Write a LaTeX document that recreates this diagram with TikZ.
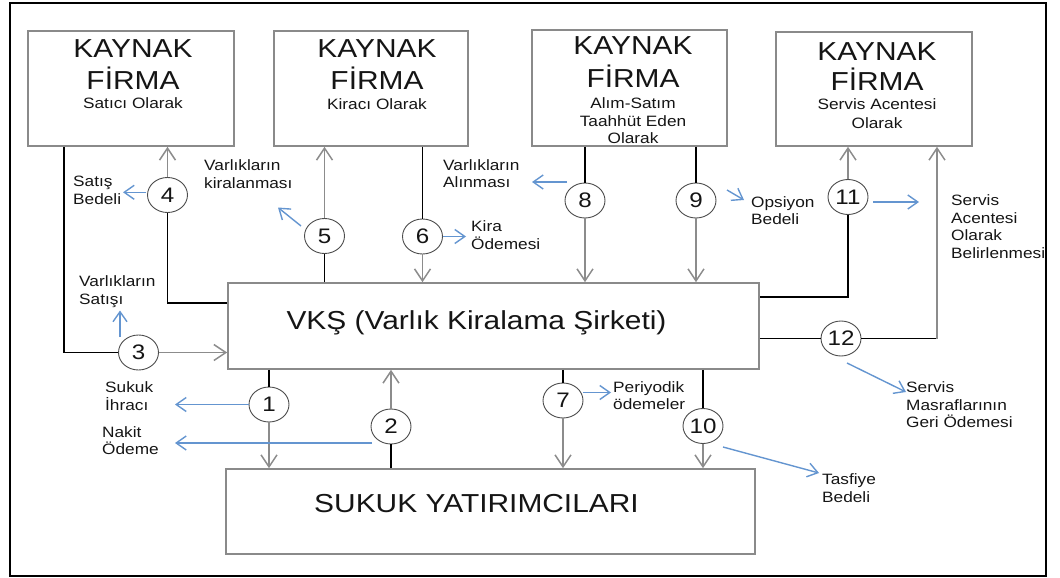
\documentclass[tikz,border=0pt]{standalone}
\usepackage{fontspec}
\setmainfont{Liberation Sans}[FakeStretch=1.15]
\usetikzlibrary{arrows.meta,shapes.geometric}
\definecolor{arrblue}{HTML}{6495D0}
\definecolor{arrgray}{HTML}{8C8C8C}
\definecolor{boxgray}{HTML}{8A8A8A}
\definecolor{txt}{HTML}{151515}
\begin{document}
\begin{tikzpicture}[x=1pt,y=-1pt,
  box/.style={draw=boxgray,line width=1.6pt,fill=white,inner sep=0pt},
  num/.style={ellipse,draw=black!70,line width=0.9pt,fill=white,minimum width=40pt,minimum height=35pt,inner sep=0pt,font=\fontsize{21}{21}\selectfont,text=txt},
  big/.style={inner sep=0pt,anchor=base,font=\fontsize{26}{30}\selectfont,text=txt},
  sub/.style={inner sep=0pt,anchor=base,font=\fontsize{15}{18}\selectfont,text=txt},
  lbl/.style={inner sep=0pt,anchor=north west,align=left,font=\fontsize{15}{17.5}\selectfont,text=txt},
  blk/.style={line width=1.8pt,black},
  gry/.style={line width=1.5pt,arrgray,-{Straight Barb[length=12pt,width=16pt]}},
  blu/.style={line width=1.4pt,arrblue,-{Straight Barb[length=10pt,width=14pt]}},
]
\path[use as bounding box] (0,0) rectangle (1060,578);
\draw[line width=2.2pt] (10,3) rectangle (1046,576);

% boxes
\node[box,minimum width=206pt,minimum height=115pt] (b1) at (131,88.5) {};
\node[box,minimum width=194pt,minimum height=115pt] (b2) at (371,88.5) {};
\node[box,minimum width=195pt,minimum height=116pt] (b3) at (629.5,88) {};
\node[box,minimum width=196pt,minimum height=114pt] (b4) at (874,89) {};
\node[box,minimum width=531pt,minimum height=86pt] (vks) at (493.5,326) {};
\node[box,minimum width=529pt,minimum height=85pt] (sukuk) at (490.5,511.5) {};

% box texts
\node[big] (b1a) at (133,58) {KAYNAK};
\node[big] (b1b) at (133,89) {FİRMA};
\node[sub] (b1c) at (133,108) {Satıcı Olarak};
\node[big] (b2a) at (377,58) {KAYNAK};
\node[big] (b2b) at (377,89) {FİRMA};
\node[sub] (b2c) at (377,109) {Kiracı Olarak};
\node[big] (b3a) at (633,55) {KAYNAK};
\node[big] (b3b) at (633,87) {FİRMA};
\node[sub] (b3c) at (633,108) {Alım-Satım};
\node[sub] (b3d) at (633,126) {Taahhüt Eden};
\node[sub] (b3e) at (633,143) {Olarak};
\node[big] (b4a) at (877,60) {KAYNAK};
\node[big] (b4b) at (877,91) {FİRMA};
\node[sub] (b4c) at (877,110) {Servis Acentesi};
\node[sub] (b4d) at (877,128) {Olarak};
\node[big] (vkst) at (476.5,329) {VKŞ (Varlık Kiralama Şirketi)};
\node[big] (sukt) at (476.5,512) {SUKUK YATIRIMCILARI};

% helper coordinates
\coordinate (p3) at (64,352.5);
\coordinate (p4) at (167.5,303);
\coordinate (p11) at (848,297);
\coordinate (p12) at (937,338.5);

% circles
\node[num] (c1) at (269,404.5) {1};
\node[num] (c2) at (391,426.5) {2};
\node[num] (c3) at (138.5,352.5) {3};
\node[num] (c4) at (167.5,195) {4};
\node[num] (c5) at (324.5,236) {5};
\node[num] (c6) at (422.5,236.5) {6};
\node[num] (c7) at (563,400.5) {7};
\node[num] (c8) at (585,200.5) {8};
\node[num] (c9) at (696,200.5) {9};
\node[num] (c10) at (703,426) {10};
\node[num] (c11) at (848,197) {11};
\node[num] (c12) at (841,338.5) {12};

% black and gray connectors
\draw[blk] (c1 |- vks.south) -- (c1.north);
\draw[gry] (c1.south) -- (c1 |- sukuk.north);
\draw[blk] (c2 |- sukuk.north) -- (c2.south);
\draw[gry] (c2.north) -- (c2 |- vks.south);
\draw[blk] (b1.south -| p3) -- (p3) -- (c3.west);
\draw[gry] (c3.east) -- (c3 -| vks.west);
\draw[blk] (p4 -| vks.west) -- (p4) -- (c4.south);
\draw[gry] (c4.north) -- (c4 |- b1.south);
\draw[blk] (c5 |- vks.north) -- (c5.south);
\draw[gry] (c5.north) -- (c5 |- b2.south);
\draw[blk] (c6 |- b2.south) -- (c6.north);
\draw[gry] (c6.south) -- (c6 |- vks.north);
\draw[blk] (c8 |- b3.south) -- (c8.north);
\draw[gry] (c8.south) -- (c8 |- vks.north);
\draw[blk] (c9 |- b3.south) -- (c9.north);
\draw[gry] (c9.south) -- (c9 |- vks.north);
\draw[blk] (c7 |- vks.south) -- (c7.north);
\draw[gry] (c7.south) -- (c7 |- sukuk.north);
\draw[blk] (c10 |- vks.south) -- (c10.north);
\draw[gry] (c10.south) -- (c10 |- sukuk.north);
\draw[gry] (c11.north) -- (c11 |- b4.south);
\draw[blk] (c11.south) -- (p11) -- (p11 -| vks.east);
\draw[blk] (c12 -| vks.east) -- (c12.west);
\draw[blk] (c12.east) -- (p12);
\draw[gry] (p12) -- (p12 |- b4.south);

% blue arrows
\coordinate (e1) at (175,404.5);
\coordinate (s2) at (372,443); \coordinate (e2) at (175,443);
\coordinate (s3) at (120,337); \coordinate (e3) at (120,310.5);
\coordinate (s4) at (146,192.3); \coordinate (e4) at (123,192.3);
\coordinate (s5) at (301,226); \coordinate (e5) at (278,207.5);
\coordinate (e6) at (466,236.5);
\coordinate (s8) at (567,182); \coordinate (e8) at (532,182);
\coordinate (s9) at (727,190); \coordinate (e9) at (744,200);
\coordinate (s11) at (873,202); \coordinate (e11) at (919,202);
\coordinate (s12) at (847,363); \coordinate (e12) at (906,392);
\coordinate (s7) at (583,392.5); \coordinate (e7) at (611,392.5);
\coordinate (s10) at (723,447); \coordinate (e10) at (819,473);
\draw[blu] (c1.west) -- (e1);
\draw[blu] (s2) -- (e2);
\draw[blu] (s3) -- (e3);
\draw[blu] (s4) -- (e4);
\draw[blu] (s5) -- (e5);
\draw[blu] (c6.east) -- (e6);
\draw[blu] (s8) -- (e8);
\draw[blu] (s9) -- (e9);
\draw[blu] (s11) -- (e11);
\draw[blu] (s12) -- (e12);
\draw[blu] (s7) -- (e7);
\draw[blu] (s10) -- (e10);

% labels
\node[lbl] (l3) at (79,275.5) {Varlıkların\\Satışı};
\node[lbl] (l4) at (73,176) {Satış\\Bedeli};
\node[lbl] (l5) at (204,159.5) {Varlıkların\\kiralanması};
\node[lbl] (l6) at (471,220.5) {Kira\\Ödemesi};
\node[lbl] (l8) at (443,159) {Varlıkların\\Alınması};
\node[lbl] (l9) at (751,196) {Opsiyon\\Bedeli};
\node[lbl] (l11) at (951,194.5) {Servis\\Acentesi\\Olarak\\Belirlenmesi};
\node[lbl] (l12) at (906,381.5) {Servis\\Masraflarının\\Geri Ödemesi};
\node[lbl] (l7) at (613,381) {Periyodik\\ödemeler};
\node[lbl] (l10) at (822,473.5) {Tasfiye\\Bedeli};
\node[lbl] (l1) at (105,381.5) {Sukuk\\İhracı};
\node[lbl] (l2) at (102,426) {Nakit\\Ödeme};
\end{tikzpicture}
\end{document}
